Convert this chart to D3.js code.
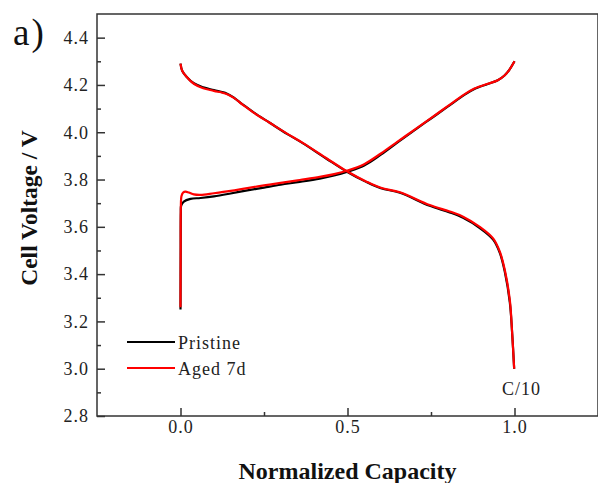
<!DOCTYPE html>
<html lang="en-US">

<head>
    <title>Charge / Discharge Curves</title>
    <meta charset="utf-8">
    <script src="https://cdn.jsdelivr.net/npm/d3@7"></script>
    <style>
        body { margin: 0; background: #fff; }
        svg { display: block; }
    </style>
</head>

<body>
    <svg></svg>
</body>

<script>

    // ---- data: [normalized capacity, voltage] ----
    const pristine_charge = [
        [0, 3.25], [0.0005, 3.5], [0.001, 3.66], [0.002, 3.69], [0.01, 3.707], [0.03, 3.718],
        [0.06, 3.722], [0.1, 3.729], [0.15, 3.741], [0.2, 3.754], [0.25, 3.766], [0.3, 3.778],
        [0.357, 3.79], [0.417, 3.804], [0.46, 3.817], [0.5, 3.833], [0.55, 3.859], [0.6, 3.905],
        [0.65, 3.957], [0.7, 4.008], [0.75, 4.058], [0.8, 4.108], [0.85, 4.158], [0.88, 4.183],
        [0.92, 4.204], [0.95, 4.22], [0.97, 4.24], [0.985, 4.265], [1.0, 4.3]
    ];
    const aged_charge = [
        [0, 3.26], [0.0005, 3.5], [0.001, 3.68], [0.003, 3.73], [0.008, 3.745], [0.015, 3.749],
        [0.025, 3.745], [0.04, 3.737], [0.06, 3.735], [0.1, 3.742], [0.15, 3.752], [0.2, 3.764],
        [0.25, 3.775], [0.3, 3.786], [0.357, 3.798], [0.417, 3.811], [0.46, 3.823], [0.5, 3.838],
        [0.55, 3.865], [0.6, 3.91], [0.65, 3.96], [0.7, 4.01], [0.75, 4.06], [0.8, 4.11],
        [0.85, 4.16], [0.88, 4.185], [0.92, 4.205], [0.95, 4.22], [0.97, 4.24], [0.985, 4.265],
        [1.0, 4.3]
    ];
    const pristine_discharge = [
        [0, 4.29], [0.005, 4.26], [0.018, 4.235], [0.04, 4.207], [0.068, 4.19], [0.1, 4.178],
        [0.138, 4.164], [0.16, 4.146], [0.187, 4.117], [0.22, 4.083], [0.267, 4.04], [0.32, 3.992],
        [0.367, 3.953], [0.437, 3.888], [0.497, 3.834], [0.557, 3.789], [0.6, 3.763], [0.657, 3.744],
        [0.746, 3.689], [0.806, 3.661], [0.846, 3.638], [0.896, 3.595], [0.936, 3.546], [0.956, 3.49],
        [0.971, 3.41], [0.986, 3.28], [0.993, 3.15], [0.999, 3.0]
    ];
    const aged_discharge = [
        [0, 4.29], [0.005, 4.26], [0.018, 4.235], [0.04, 4.205], [0.068, 4.186], [0.1, 4.175],
        [0.138, 4.162], [0.16, 4.145], [0.187, 4.116], [0.22, 4.082], [0.267, 4.04], [0.32, 3.993],
        [0.367, 3.954], [0.437, 3.89], [0.497, 3.836], [0.557, 3.791], [0.6, 3.765], [0.657, 3.746],
        [0.746, 3.692], [0.806, 3.665], [0.846, 3.643], [0.896, 3.6], [0.936, 3.551], [0.956, 3.495],
        [0.971, 3.417], [0.986, 3.29], [0.993, 3.15], [0.999, 3.0]
    ];

    const x_ticks = [0, 0.5, 1.0];
    const x_minor = [0.25, 0.75];
    const y_ticks = [2.8, 3.0, 3.2, 3.4, 3.6, 3.8, 4.0, 4.2, 4.4];
    const y_minor = [2.9, 3.1, 3.3, 3.5, 3.7, 3.9, 4.1, 4.3];

    const series_names = ['Pristine', 'Aged 7d'];
    const series_colors = ['#000000', '#ff0000'];

    let opt = {
        width: 598,
        height: 483,
        font: '"Liberation Serif", "Times New Roman", serif',
        area: { left: 97, top: 14, width: 501, height: 402 },
        x_domain: [-0.25, 1.25],
        y_domain: [2.8, 4.5],
        frame_color: '#333',
        line_width: 2.2
    };

    let svg = d3.select('svg')
        .attr('width', opt.width)
        .attr('height', opt.height);

    let xScale = d3.scaleLinear()
        .domain(opt.x_domain)
        .range([0, opt.area.width]);

    let yScale = d3.scaleLinear()
        .domain(opt.y_domain)
        .range([opt.area.height, 0]);

    let chart_area = svg.append('g')
        .attr('transform', `translate(${opt.area.left},${opt.area.top})`);

    // Curves: black first, red on top
    let line = d3.line()
        .x(d => xScale(d[0]))
        .y(d => yScale(d[1]))
        .curve(d3.curveCatmullRom.alpha(0.5));

    [[pristine_charge, pristine_discharge], [aged_charge, aged_discharge]].forEach((pair, i) => {
        pair.forEach(data => {
            chart_area.append('path')
                .datum(data)
                .attr('d', line)
                .style('fill', 'none')
                .style('stroke', series_colors[i])
                .style('stroke-width', opt.line_width)
                .style('stroke-linejoin', 'round');
        });
    });

    // Major axes, ticks pointing inward
    chart_area.append('g')
        .attr('transform', `translate(0,${opt.area.height})`)
        .call(d3.axisBottom(xScale).tickValues(x_ticks).tickSize(-8).tickPadding(4)
            .tickFormat(d3.format('.1f')));

    chart_area.append('g')
        .call(d3.axisLeft(yScale).tickValues(y_ticks).tickSize(-8).tickPadding(8)
            .tickFormat(d3.format('.1f')));

    // Minor ticks
    chart_area.append('g')
        .attr('transform', `translate(0,${opt.area.height})`)
        .call(d3.axisBottom(xScale).tickValues(x_minor).tickSize(-4).tickFormat(''));

    chart_area.append('g')
        .call(d3.axisLeft(yScale).tickValues(y_minor).tickSize(-4).tickFormat(''));

    chart_area.selectAll('.domain').remove();
    chart_area.selectAll('.tick line')
        .attr('stroke', opt.frame_color)
        .attr('stroke-width', 1.5);
    chart_area.selectAll('.tick text')
        .style('font-family', opt.font)
        .style('font-size', '18px')
        .style('letter-spacing', '1px')
        .attr('fill', '#222');

    // Frame
    chart_area.append('rect')
        .attr('x', 0)
        .attr('y', 0)
        .attr('width', opt.area.width)
        .attr('height', opt.area.height)
        .attr('fill', 'none')
        .attr('stroke', opt.frame_color)
        .attr('stroke-width', 1.5);

    // Legend
    let legend = svg.append('g')
        .attr('transform', 'translate(127,342)');

    series_names.forEach((name, i) => {
        legend.append('line')
            .attr('x1', 0)
            .attr('x2', 48)
            .attr('y1', i * 26)
            .attr('y2', i * 26)
            .style('stroke', series_colors[i])
            .style('stroke-width', opt.line_width);
        legend.append('text')
            .attr('x', 51)
            .attr('y', i * 26 + 6.5)
            .style('font-family', opt.font)
            .style('font-size', '18px')
            .style('letter-spacing', '1px')
            .attr('fill', '#222')
            .text(name);
    });

    // Rate label
    svg.append('text')
        .attr('x', 502)
        .attr('y', 395)
        .style('font-family', opt.font)
        .style('font-size', '18px')
        .style('letter-spacing', '1px')
        .attr('fill', '#222')
        .text('C/10');

    // Panel letter
    svg.append('text')
        .attr('x', 13)
        .attr('y', 45)
        .style('font-family', opt.font)
        .style('font-size', '37px')
        .style('letter-spacing', '2px')
        .attr('fill', '#111')
        .text('a)');

    // Axis titles
    svg.append('text')
        .attr('x', opt.area.left + opt.area.width / 2)
        .attr('y', 479)
        .attr('text-anchor', 'middle')
        .style('font-family', opt.font)
        .style('font-size', '24px')
        .style('font-weight', 'bold')
        .attr('fill', '#111')
        .text('Normalized Capacity');

    svg.append('text')
        .attr('text-anchor', 'middle')
        .attr('transform', 'translate(37,208)rotate(-90)')
        .style('font-family', opt.font)
        .style('font-size', '23.5px')
        .style('font-weight', 'bold')
        .attr('fill', '#111')
        .text('Cell Voltage / V');

</script>

</html>
